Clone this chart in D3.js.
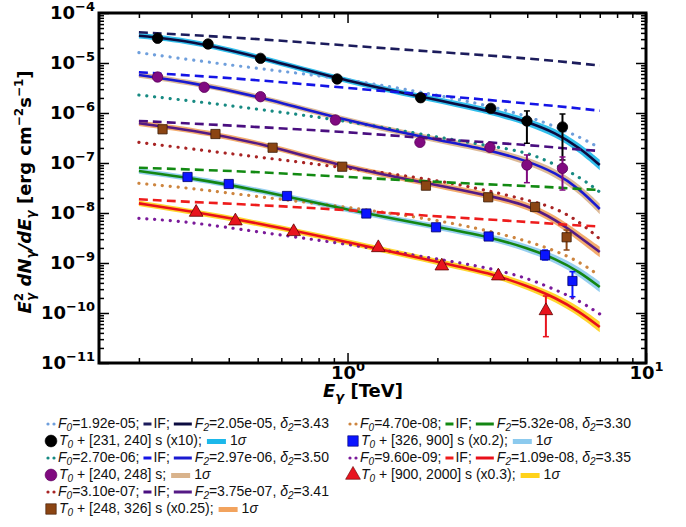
<!DOCTYPE html>
<html>
<head>
<meta charset="utf-8">
<script src="https://cdn.jsdelivr.net/npm/d3@7"></script>
<style>
body { margin: 0; background: #fff; }
</style>
</head>
<body>
<script>
var energy = [0.2, 0.3, 0.5, 1, 2, 3, 4, 5, 6, 7];

// model curves, E^2 dN/dE in erg cm^-2 s^-1 (one value per energy)
var f0Curve1 = [1.61e-5, 1.15e-5, 7.76e-6, 4.79e-6, 2.29e-6, 1.38e-6, 8.71e-7, 5.25e-7, 3.31e-7, 2.00e-7];
var ifCurve1 = [4.11e-5, 3.63e-5, 3.02e-5, 2.24e-5, 1.66e-5, 1.41e-5, 1.23e-5, 1.10e-5, 9.77e-6, 8.91e-6];
var f2Curve1 = [3.52e-5, 2.75e-5, 1.34e-5, 4.27e-6, 1.82e-6, 1.10e-6, 6.70e-7, 3.98e-7, 2.00e-7, 9.12e-8];

var f0Curve2 = [2.29e-6, 1.74e-6, 1.20e-6, 6.92e-7, 3.31e-7, 2.19e-7, 1.66e-7, 9.12e-8, 5.25e-8, 2.63e-8];
var ifCurve2 = [6.52e-6, 5.62e-6, 4.57e-6, 3.16e-6, 2.24e-6, 1.82e-6, 1.55e-6, 1.38e-6, 1.23e-6, 1.11e-6];
var f2Curve2 = [5.75e-6, 4.04e-6, 2.19e-6, 6.92e-7, 2.88e-7, 1.82e-7, 1.10e-7, 6.31e-8, 3.02e-8, 1.20e-8];

var f0Curve3 = [2.59e-7, 1.91e-7, 1.32e-7, 7.94e-8, 4.57e-8, 2.75e-8, 1.82e-8, 1.26e-8, 6.61e-9, 3.02e-9];
var ifCurve3 = [6.92e-7, 6.17e-7, 5.25e-7, 4.17e-7, 3.02e-7, 2.57e-7, 2.29e-7, 2.04e-7, 1.86e-7, 1.74e-7];
var f2Curve3 = [6.22e-7, 4.57e-7, 2.59e-7, 7.94e-8, 3.63e-8, 2.19e-8, 1.45e-8, 7.24e-9, 3.31e-9, 1.66e-9];

var f0Curve4 = [3.93e-8, 3.12e-8, 2.12e-8, 1.32e-8, 7.24e-9, 4.37e-9, 2.75e-9, 1.74e-9, 1.05e-9, 5.50e-10];
var ifCurve4 = [8.05e-8, 7.41e-8, 6.61e-8, 5.25e-8, 4.17e-8, 3.72e-8, 3.47e-8, 3.24e-8, 3.02e-8, 2.88e-8];
var f2Curve4 = [6.92e-8, 5.01e-8, 2.88e-8, 1.15e-8, 5.25e-9, 3.31e-9, 2.00e-9, 1.20e-9, 6.61e-10, 3.31e-10];

var f0Curve5 = [7.83e-9, 6.61e-9, 4.17e-9, 2.40e-9, 1.20e-9, 7.94e-10, 5.01e-10, 2.88e-10, 1.74e-10, 9.55e-11];
var ifCurve5 = [1.88e-8, 1.66e-8, 1.45e-8, 1.15e-8, 8.51e-9, 7.41e-9, 6.61e-9, 6.03e-9, 5.62e-9, 5.37e-9];
var f2Curve5 = [1.56e-8, 1.07e-8, 6.31e-9, 2.63e-9, 1.05e-9, 6.31e-10, 3.47e-10, 2.00e-10, 1.05e-10, 5.25e-11];

// 1 sigma half width of the bands (dex), per energy
var sigmaDex = [0.055, 0.055, 0.055, 0.055, 0.06, 0.065, 0.075, 0.085, 0.095, 0.105];

// measured points
var ptE1 = [0.231, 0.341, 0.511, 0.923, 1.758, 3.02, 3.99, 5.25];
var ptF1 = [3.12e-5, 2.40e-5, 1.24e-5, 4.79e-6, 2.02e-6, 1.24e-6, 6.92e-7, 5.25e-7];
var errE1 = [3.99, 5.25], errLo1 = [2.48e-7, 1.15e-7], errHi1 = [1.10e-6, 9.55e-7];

var ptE2 = [0.231, 0.331, 0.511, 0.911, 1.748, 3.00, 3.99, 5.25];
var ptF2 = [5.25e-6, 3.27e-6, 2.12e-6, 7.24e-7, 2.59e-7, 2.06e-7, 9.12e-8, 7.83e-8];
var errE2 = [3.99, 5.25], errLo2 = [4.04e-8, 2.88e-8], errHi2 = [1.45e-7, 1.32e-7];

var ptE3 = [0.240, 0.361, 0.561, 0.960, 1.831, 2.96, 4.25, 5.42];
var ptF3 = [4.72e-7, 3.80e-7, 2.02e-7, 8.43e-8, 3.52e-8, 2.06e-8, 1.32e-8, 3.27e-9];
var errE3 = [5.42], errLo3 = [1.82e-9], errHi3 = [4.57e-9];

var ptE4 = [0.291, 0.400, 0.627, 1.156, 1.979, 2.97, 4.59, 5.67];
var ptF4 = [5.25e-8, 3.80e-8, 2.19e-8, 9.77e-9, 5.18e-9, 3.39e-9, 1.43e-9, 4.37e-10];
var errE4 = [4.59, 5.67], errLo4 = [1.15e-9, 2.12e-10], errHi4 = [1.82e-9, 6.70e-10];

var ptE5 = [0.311, 0.421, 0.660, 1.268, 2.07, 3.20, 4.62];
var ptF5 = [1.03e-8, 6.92e-9, 4.23e-9, 2.02e-9, 8.71e-10, 5.50e-10, 1.11e-10];
var errE5 = [4.62], errLo5 = [3.36e-11], errHi5 = [2.19e-10];

// legend texts
var legF0 = ["1.92e-05", "2.70e-06", "3.10e-07", "4.70e-08", "9.60e-09"];
var legF2 = ["2.05e-05", "2.97e-06", "3.75e-07", "5.32e-08", "1.09e-08"];
var legDelta = ["3.43", "3.50", "3.41", "3.30", "3.35"];
var legTime = ["[231, 240] s (x10);", "[240, 248] s;", "[248, 326] s (x0.25);", "[326, 900] s (x0.2);", "[900, 2000] s (x0.3);"];

var xTicksMajor = [1, 10];
var yTicksMajor = [1e-11, 1e-10, 1e-9, 1e-8, 1e-7, 1e-6, 1e-5, 1e-4];

var series = [
  {f0: f0Curve1, ifl: ifCurve1, f2: f2Curve1, pe: ptE1, pf: ptF1, ee: errE1, lo: errLo1, hi: errHi1,
   cDot: "#6f9fdc", cDash: "#1c1c5c", cSolid: "#0c0c40", cBand: "#1cb8ea", cPt: "#000", cEdge: "#000", shape: "circle"},
  {f0: f0Curve2, ifl: ifCurve2, f2: f2Curve2, pe: ptE2, pf: ptF2, ee: errE2, lo: errLo2, hi: errHi2,
   cDot: "#178a82", cDash: "#1414e6", cSolid: "#1a1ad0", cBand: "#d9b38c", cPt: "#800a80", cEdge: "#5a005a", shape: "circle"},
  {f0: f0Curve3, ifl: ifCurve3, f2: f2Curve3, pe: ptE3, pf: ptF3, ee: errE3, lo: errLo3, hi: errHi3,
   cDot: "#a82424", cDash: "#4a0f80", cSolid: "#551a85", cBand: "#f2a35e", cPt: "#8b4513", cEdge: "#3a1a05", shape: "square"},
  {f0: f0Curve4, ifl: ifCurve4, f2: f2Curve4, pe: ptE4, pf: ptF4, ee: errE4, lo: errLo4, hi: errHi4,
   cDot: "#cd853f", cDash: "#128a12", cSolid: "#138613", cBand: "#8ccaee", cPt: "#0a14ff", cEdge: "#00006a", shape: "square"},
  {f0: f0Curve5, ifl: ifCurve5, f2: f2Curve5, pe: ptE5, pf: ptF5, ee: errE5, lo: errLo5, hi: errHi5,
   cDot: "#7a1a9a", cDash: "#ee1c1c", cSolid: "#e8101a", cBand: "#ffd21a", cPt: "#e8141e", cEdge: "#600000", shape: "triangle"}
];

var width = 686, height = 527;

var svg = d3.select("body").append("svg")
    .attr("width", width)
    .attr("height", height)
    .style("font-family", "'DejaVu Sans', sans-serif");

// set the ranges
var x = d3.scaleLog().domain([0.147, 10]).range([99, 646]);
var y = d3.scaleLog().domain([1e-11, 1e-4]).range([363, 13]);

var line = d3.line()
    .x(function(d) { return x(d[0]); })
    .y(function(d) { return y(d[1]); })
    .curve(d3.curveBasis);

var band = d3.area()
    .x(function(d) { return x(d[0]); })
    .y0(function(d) { return y(d[1] * Math.pow(10, -d[2])); })
    .y1(function(d) { return y(d[1] * Math.pow(10, d[2])); })
    .curve(d3.curveBasis);

function pairs(vals) {
  return energy.map(function(e, i) { return [e, vals[i]]; });
}

var plot = svg.append("g");

// bands first
series.forEach(function(s) {
  plot.append("path")
    .datum(energy.map(function(e, i) { return [e, s.f2[i], sigmaDex[i]]; }))
    .attr("d", band)
    .attr("fill", s.cBand)
    .attr("opacity", 0.9);
});

series.forEach(function(s) {
  plot.append("path").datum(pairs(s.f0)).attr("d", line)
    .attr("fill", "none").attr("stroke", s.cDot).attr("stroke-width", 3.2)
    .attr("stroke-linecap", "round").attr("stroke-dasharray", "0.1 7.8");
  plot.append("path").datum(pairs(s.ifl)).attr("d", line)
    .attr("fill", "none").attr("stroke", s.cDash).attr("stroke-width", 2.6)
    .attr("stroke-dasharray", "9 5");
  plot.append("path").datum(pairs(s.f2)).attr("d", line)
    .attr("fill", "none").attr("stroke", s.cSolid).attr("stroke-width", 2.6);
});

// error bars and points
series.forEach(function(s) {
  s.ee.forEach(function(e, i) {
    plot.append("line")
      .attr("x1", x(e)).attr("x2", x(e))
      .attr("y1", y(s.lo[i])).attr("y2", y(s.hi[i]))
      .attr("stroke", s.cPt).attr("stroke-width", 2);
    [s.lo[i], s.hi[i]].forEach(function(v) {
      plot.append("line")
        .attr("x1", x(e) - 3).attr("x2", x(e) + 3)
        .attr("y1", y(v)).attr("y2", y(v))
        .attr("stroke", s.cPt).attr("stroke-width", 1.5);
    });
  });
  var sym = s.shape == "circle" ? d3.symbolCircle : (s.shape == "square" ? d3.symbolSquare : d3.symbolTriangle);
  var size = s.shape == "circle" ? 85 : (s.shape == "square" ? 85 : 80);
  plot.selectAll(null)
    .data(s.pe.map(function(e, i) { return [e, s.pf[i]]; }))
    .enter().append("path")
    .attr("transform", function(d) { return "translate(" + x(d[0]) + "," + y(d[1]) + ")"; })
    .attr("d", d3.symbol().type(sym).size(size))
    .attr("fill", s.cPt)
    .attr("stroke", s.cEdge)
    .attr("stroke-width", 0.8);
});

// axes, ticks pointing inwards
function minorTicks(domain) {
  var out = [];
  for (var p = -12; p <= 1; p++) {
    for (var k = 2; k <= 9; k++) {
      var v = k * Math.pow(10, p);
      if (v > domain[0] && v < domain[1]) out.push(v);
    }
  }
  return out;
}

function powLabel(sel) {
  sel.each(function(d) {
    var t = d3.select(this);
    var e = Math.round(Math.log10(d));
    t.text("10");
    t.append("tspan").attr("baseline-shift", 8).attr("font-size", 13)
      .text(e < 0 ? "\u2212" + (-e) : "" + e);
  });
}

function styleAxis(g) {
  g.select(".domain").remove();
  g.selectAll("line").attr("stroke", "#000").attr("stroke-width", 1.5);
  g.attr("font-family", null).attr("font-size", null);
}

var xMinor = minorTicks(x.domain());
var yMinor = minorTicks(y.domain());

var gLeft = svg.append("g").attr("transform", "translate(99,0)")
    .call(d3.axisLeft(y).tickValues(yTicksMajor).tickSize(-10).tickPadding(4).tickFormat(""));
styleAxis(gLeft);
gLeft.selectAll("text").attr("font-size", 18).attr("font-weight", "bold").attr("fill", "#000").call(powLabel);
svg.append("g").attr("transform", "translate(99,0)")
    .call(d3.axisLeft(y).tickValues(yMinor).tickSize(-5).tickFormat("")).call(styleAxis);

svg.append("g").attr("transform", "translate(646,0)")
    .call(d3.axisRight(y).tickValues(yTicksMajor).tickSize(-10).tickFormat("")).call(styleAxis);
svg.append("g").attr("transform", "translate(646,0)")
    .call(d3.axisRight(y).tickValues(yMinor).tickSize(-5).tickFormat("")).call(styleAxis);

var gBottom = svg.append("g").attr("transform", "translate(0,363)")
    .call(d3.axisBottom(x).tickValues(xTicksMajor).tickSize(-10).tickPadding(3).tickFormat(""));
styleAxis(gBottom);
gBottom.selectAll("text").attr("font-size", 18).attr("font-weight", "bold").attr("fill", "#000").call(powLabel);
svg.append("g").attr("transform", "translate(0,363)")
    .call(d3.axisBottom(x).tickValues(xMinor).tickSize(-5).tickFormat("")).call(styleAxis);

svg.append("g").attr("transform", "translate(0,13)")
    .call(d3.axisTop(x).tickValues(xTicksMajor).tickSize(-10).tickFormat("")).call(styleAxis);
svg.append("g").attr("transform", "translate(0,13)")
    .call(d3.axisTop(x).tickValues(xMinor).tickSize(-5).tickFormat("")).call(styleAxis);

svg.append("rect")
    .attr("x", 99).attr("y", 13).attr("width", 547).attr("height", 350)
    .attr("fill", "none").attr("stroke", "#000").attr("stroke-width", 3);

// axis titles
var xt = svg.append("text")
    .attr("x", 363).attr("y", 397)
    .attr("text-anchor", "middle").attr("font-size", 18).attr("font-weight", "bold");
xt.append("tspan").attr("font-style", "italic").text("E");
xt.append("tspan").attr("font-style", "italic").attr("font-size", 13).attr("baseline-shift", -4).text("\u03b3");
xt.append("tspan").text(" [TeV]");

var yt = svg.append("text")
    .attr("transform", "translate(31,192) rotate(-90)")
    .attr("text-anchor", "middle").attr("font-size", 18).attr("font-weight", "bold");
yt.append("tspan").attr("font-style", "italic").text("E");
yt.append("tspan").attr("font-size", 12).attr("baseline-shift", 8).text("2");
yt.append("tspan").attr("font-size", 12).attr("font-style", "italic").attr("dx", -8).attr("baseline-shift", -4).text("\u03b3");
yt.append("tspan").attr("font-style", "italic").text(" dN");
yt.append("tspan").attr("font-size", 12).attr("font-style", "italic").attr("baseline-shift", -4).text("\u03b3");
yt.append("tspan").attr("font-style", "italic").text("/dE");
yt.append("tspan").attr("font-size", 12).attr("font-style", "italic").attr("baseline-shift", -4).text("\u03b3");
yt.append("tspan").text(" [erg cm");
yt.append("tspan").attr("font-size", 12).attr("baseline-shift", 8).text("\u22122");
yt.append("tspan").text("s");
yt.append("tspan").attr("font-size", 12).attr("baseline-shift", 8).text("\u22121");
yt.append("tspan").text("]");

// legend
var leg = svg.append("g").style("font-family", "'Liberation Sans', Arial, sans-serif").attr("font-size", 14);
var nb = "\u00a0";

function addText(cx, cy, parts) {
  var t = leg.append("text").attr("x", cx).attr("y", cy + 5).attr("fill", "#111");
  parts.forEach(function(p) {
    var ts = t.append("tspan").text(p[0]);
    if (p[1] == "i") ts.attr("font-style", "italic");
    if (p[1] == "sub") ts.attr("font-style", "italic").attr("font-size", 10).attr("baseline-shift", -3);
  });
  return cx + t.node().getComputedTextLength();
}

function legendRows(i, x0, yA, yB) {
  var s = series[i];
  // row with the three model lines
  leg.append("circle").attr("cx", x0 + 2).attr("cy", yA + 1).attr("r", 1.6).attr("fill", s.cDot);
  leg.append("circle").attr("cx", x0 + 8).attr("cy", yA + 1).attr("r", 1.6).attr("fill", s.cDot);
  var cx = addText(x0 + 12, yA, [["F", "i"], ["0", "sub"], ["=" + legF0[i] + ";", ""]]);
  leg.append("line").attr("x1", cx + 4).attr("x2", cx + 12).attr("y1", yA + 1).attr("y2", yA + 1)
    .attr("stroke", s.cDash).attr("stroke-width", 3);
  cx = addText(cx + 14, yA, [["IF;", ""]]);
  leg.append("line").attr("x1", cx + 4).attr("x2", cx + 22).attr("y1", yA + 1).attr("y2", yA + 1)
    .attr("stroke", s.cSolid).attr("stroke-width", 3);
  addText(cx + 25, yA, [["F", "i"], ["2", "sub"], ["=" + legF2[i] + "," + nb, ""], ["\u03b4", "i"], ["2", "sub"], ["=" + legDelta[i], ""]]);

  // row with the measured points
  var sym = s.shape == "circle" ? d3.symbolCircle : (s.shape == "square" ? d3.symbolSquare : d3.symbolTriangle);
  leg.append("path")
    .attr("transform", "translate(" + (x0 + 5) + "," + (yB + 1) + ")")
    .attr("d", d3.symbol().type(sym).size(s.shape == "triangle" ? 95 : 110))
    .attr("fill", s.cPt).attr("stroke", s.cEdge).attr("stroke-width", 0.6);
  cx = addText(x0 + 13, yB, [["T", "i"], ["0", "sub"], [nb + "+" + nb + legTime[i], ""]]);
  leg.append("rect").attr("x", cx + 5).attr("y", yB - 1).attr("width", 19).attr("height", 5).attr("fill", s.cBand);
  addText(cx + 28, yB, [["1", ""], ["\u03c3", "i"]]);
}

var rowStep = 17;
[0, 1, 2].forEach(function(i) {
  legendRows(i, 46, 423 + 2 * i * rowStep, 423 + (2 * i + 1) * rowStep);
});
[3, 4].forEach(function(i) {
  legendRows(i, 348, 423 + 2 * (i - 3) * rowStep, 423 + (2 * (i - 3) + 1) * rowStep);
});
</script>
</body>
</html>
